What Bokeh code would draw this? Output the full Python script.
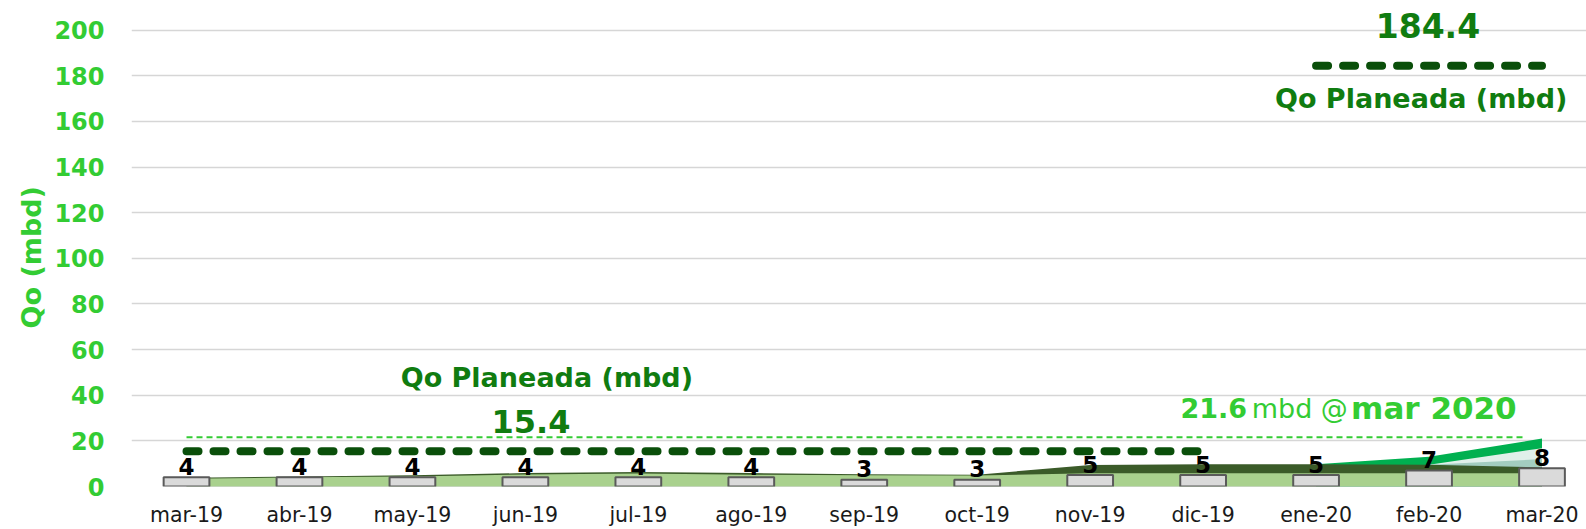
from bokeh.plotting import figure
from bokeh.models import FixedTicker, Range1d, Title
from bokeh.core.properties import value
from bokeh.embed import file_html
from bokeh.resources import INLINE

# ---------------- data ----------------
months = ["mar-19", "abr-19", "may-19", "jun-19", "jul-19", "ago-19", "sep-19",
          "oct-19", "nov-19", "dic-19", "ene-20", "feb-20", "mar-20"]
pozos = [4, 4, 4, 4, 4, 4, 3, 3, 5, 5, 5, 7, 8]
qo_real = [3.4, 4.0, 4.4, 5.3, 5.7, 5.2, 4.9, 4.8, 5.8, 5.8, 5.8, 5.8, 5.8]
qo_total = [3.8, 4.4, 4.9, 5.9, 6.4, 5.9, 5.4, 5.2, 9.4, 9.8, 9.8, 9.5, 8.4]
pron_alto = [None] * 10 + [9.8, 13.0, 21.0]
pron_medio = [None] * 11 + [9.5, 16.8]
pron_bajo = [None] * 11 + [9.5, 12.0]
plan_2019 = 15.4
plan_2020 = 184.4
meta_valor = 21.6
meta_mes = "mar 2020"
y_ticks = [0, 20, 40, 60, 80, 100, 120, 140, 160, 180, 200]
y_title = "Qo (mbd)"

FONT = value("DejaVu Sans")
GREEN_LT = "#33cc33"
GREEN_TXT = "#107c10"
GREEN_DASH = "#0a4f0a"

xs = list(range(len(months)))


def seg(vals):
    px = [x for x, v in zip(xs, vals) if v is not None]
    pv = [v for v in vals if v is not None]
    return px, pv


p = figure(width=1586, height=529, output_backend="svg", toolbar_location=None,
           x_range=Range1d(-0.487, 12.394), y_range=Range1d(0, 213.0),
           min_border_left=131, min_border_right=0, min_border_top=0,
           min_border_bottom=41)
p.outline_line_color = None
p.background_fill_color = "white"

# grid
p.xgrid.grid_line_color = None
p.ygrid.grid_line_color = "#d6d6d6"
p.ygrid.grid_line_width = 1.5

# axes
p.yaxis.ticker = FixedTicker(ticks=y_ticks)
p.yaxis.axis_line_color = None
p.yaxis.major_tick_line_color = None
p.yaxis.minor_tick_line_color = None
p.yaxis.major_tick_out = 0
p.yaxis.major_tick_in = 0
p.yaxis.major_label_text_font = "DejaVu Sans"
p.yaxis.major_label_text_font_style = "bold"
p.yaxis.major_label_text_font_size = "24px"
p.yaxis.major_label_text_color = GREEN_LT
p.yaxis.major_label_standoff = 27

p.xaxis.ticker = FixedTicker(ticks=xs)
p.xaxis.major_label_overrides = {i: m for i, m in enumerate(months)}
p.xaxis.axis_line_color = None
p.xaxis.major_tick_line_color = None
p.xaxis.minor_tick_line_color = None
p.xaxis.major_tick_out = 0
p.xaxis.major_tick_in = 0
p.xaxis.major_label_text_font = "DejaVu Sans"
p.xaxis.major_label_text_font_size = "20.5px"
p.xaxis.major_label_text_color = "#1a1a1a"
p.xaxis.major_label_standoff = 16

# y title in the left panel, outside the tick labels
p.add_layout(Title(text=y_title, align="left", offset=158,
                   text_font="DejaVu Sans", text_font_style="bold",
                   text_font_size="27px", text_color=GREEN_LT,
                   standoff=9), "left")

# areas (back to front)
ax, av = seg(pron_alto)
p.varea(x=ax, y1=[0] * len(av), y2=av, fill_color="#00b050")
mx, mv = seg(pron_medio)
p.varea(x=mx, y1=[0] * len(mv), y2=mv, fill_color="#e0f0ea")
bx, bv = seg(pron_bajo)
p.varea(x=bx, y1=[0] * len(bv), y2=bv, fill_color="#a3cdc0")
p.varea(x=xs, y1=[0] * len(xs), y2=qo_total, fill_color="#3b5b29")
p.varea(x=xs, y1=[0] * len(xs), y2=qo_real, fill_color="#a9d18e")

# bars (pozos)
p.vbar(x=xs, top=pozos, bottom=0, width=0.405, fill_color="#dadada",
       line_color="#5a5a5a", line_width=2)
p.text(x=xs, y=pozos, text=[str(v) for v in pozos], text_font=FONT,
       text_font_style="bold", text_font_size="23px", text_color="black",
       text_align="center", text_baseline="middle", y_offset=-11)

# meta line
p.line(x=[xs[0], xs[-1] - 0.15], y=[meta_valor, meta_valor], line_color=GREEN_LT,
       line_width=2, line_dash="6 4")

# planned lines
i0, i1 = months.index("mar-19"), months.index("dic-19")
p.line(x=[i0, i1], y=[plan_2019, plan_2019], line_color=GREEN_DASH, line_width=8,
       line_dash="12 15", line_cap="round")
j0, j1 = months.index("ene-20"), months.index("mar-20")
p.line(x=[j0, j1], y=[plan_2020, plan_2020], line_color=GREEN_DASH, line_width=8,
       line_dash="12 15", line_cap="round")

# annotations
p.text(x=[3.19], y=[47.6], text=["Qo Planeada (mbd)"], text_font=FONT,
       text_font_style="bold", text_font_size="27px", text_color=GREEN_TXT,
       text_align="center", text_baseline="middle")
p.text(x=[3.05], y=[28.4], text=[f"{plan_2019:.1f}"], text_font=FONT,
       text_font_style="bold", text_font_size="32px", text_color=GREEN_TXT,
       text_align="center", text_baseline="middle")
p.text(x=[10.99], y=[202.0], text=[f"{plan_2020:.1f}"], text_font=FONT,
       text_font_style="bold", text_font_size="33px", text_color=GREEN_TXT,
       text_align="center", text_baseline="middle")
p.text(x=[10.93], y=[170.2], text=["Qo Planeada (mbd)"], text_font=FONT,
       text_font_style="bold", text_font_size="27px", text_color=GREEN_TXT,
       text_align="center", text_baseline="middle")

p.text(x=[8.80], y=[34.3], text=[f"{meta_valor:.1f}"], text_font=FONT,
       text_font_style="bold", text_font_size="27px", text_color=GREEN_LT,
       text_align="left", text_baseline="middle")
p.text(x=[9.43], y=[34.3], text=["mbd @"], text_font=FONT,
       text_font_style="normal", text_font_size="27px", text_color=GREEN_LT,
       text_align="left", text_baseline="middle")
p.text(x=[10.31], y=[34.3], text=[meta_mes], text_font=FONT,
       text_font_style="bold", text_font_size="31px", text_color=GREEN_LT,
       text_align="left", text_baseline="middle")

open("out.html", "w").write(file_html(p, INLINE))
